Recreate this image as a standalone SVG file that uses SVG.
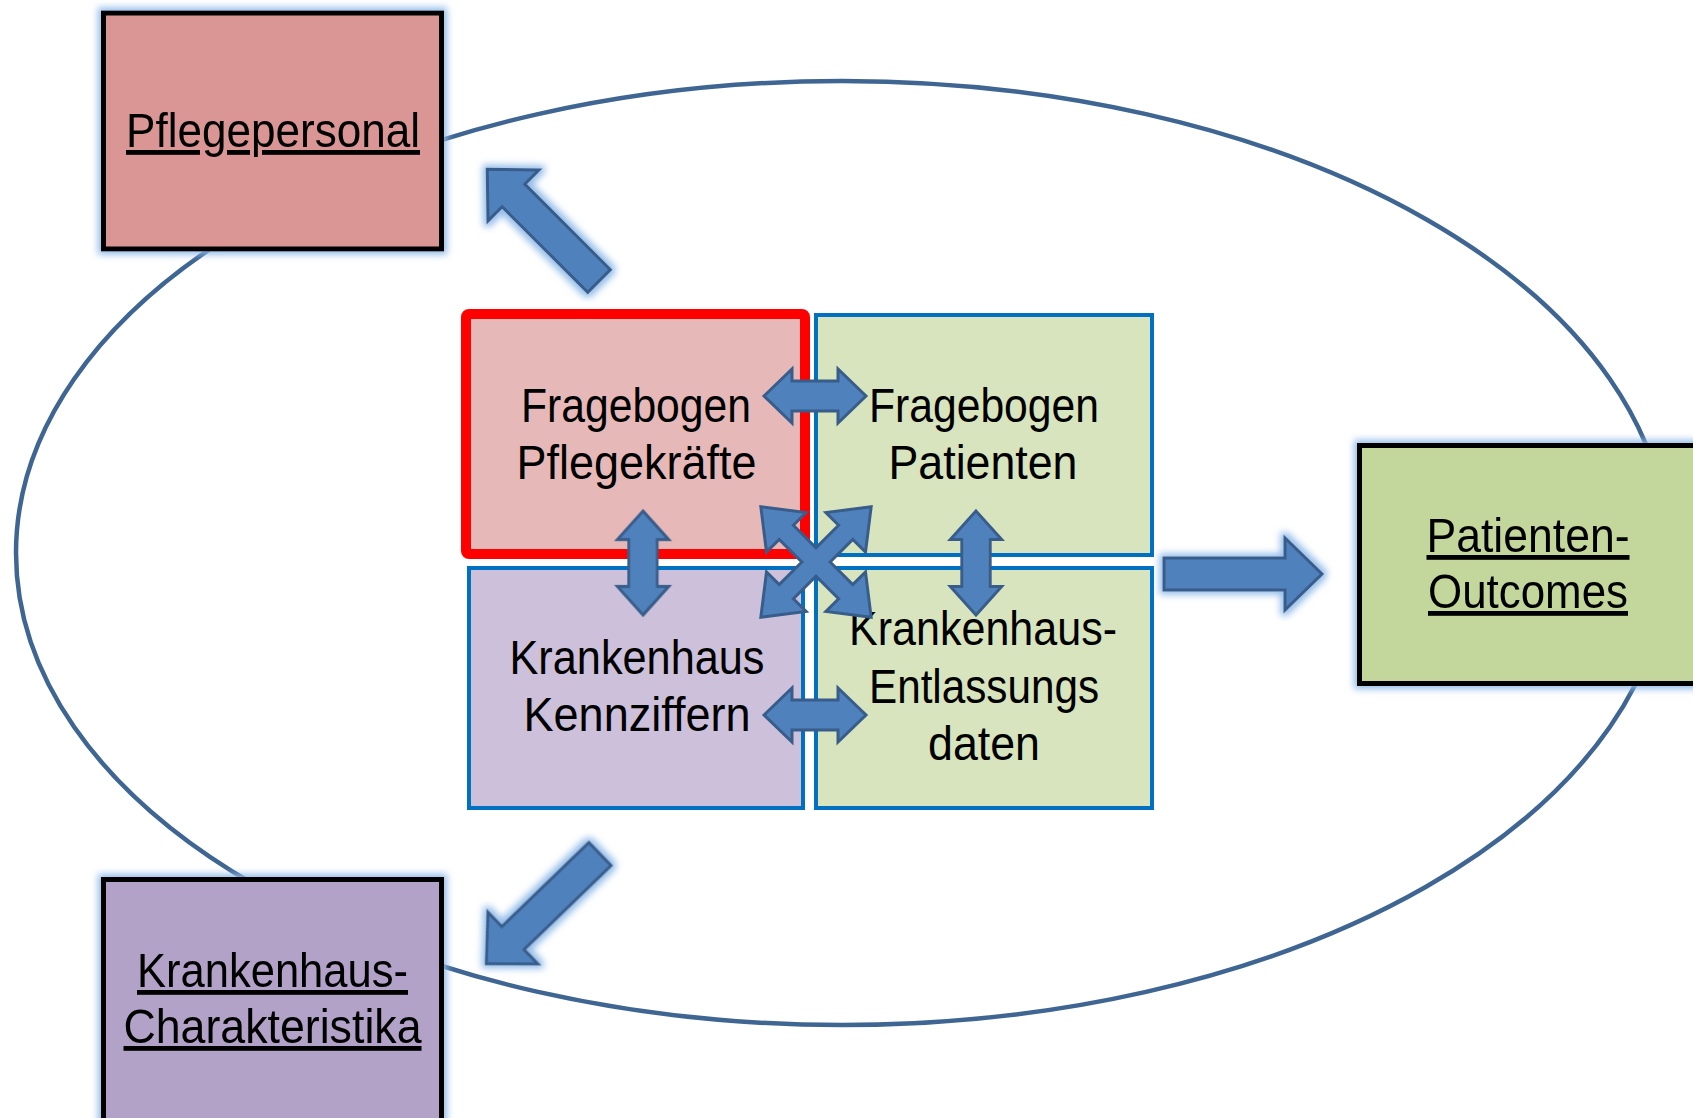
<svg xmlns="http://www.w3.org/2000/svg" width="1693" height="1118" viewBox="0 0 1693 1118">
<defs>
<style>
.lbl{font-family:"Liberation Sans","DejaVu Sans",sans-serif;font-size:48px;fill:#000;text-anchor:middle}
.ul{text-decoration:underline}
.outer{stroke:#000;stroke-width:5}
.inner{stroke:#0070C0;stroke-width:4}
.arr{fill:#4F81BD;stroke:#385D8A;stroke-width:3;stroke-linejoin:miter}
</style>
<filter id="glow" x="-20%" y="-20%" width="140%" height="140%">
<feMorphology in="SourceAlpha" operator="dilate" radius="3" result="d"/>
<feGaussianBlur in="d" stdDeviation="3.5" result="b"/>
<feFlood flood-color="#8DB8E8" flood-opacity="0.95"/>
<feComposite in2="b" operator="in" result="g"/>
<feMerge><feMergeNode in="g"/><feMergeNode in="SourceGraphic"/></feMerge>
</filter>
<path id="block" d="M0,-16 L121,-16 L121,-36 L158,0 L121,36 L121,16 L0,16 Z"/>
<path id="dbl" d="M0,0 L28,-27 L28,-15 L74,-15 L74,-27 L102,0 L74,27 L74,15 L28,15 L28,27 Z"/>
</defs>
<rect width="1693" height="1118" fill="#fff"/>
<g id="cycle">
<ellipse cx="842" cy="553" rx="826" ry="472" fill="none" stroke="#3F6592" stroke-width="4.5"/>
</g>
<g id="node-pflegepersonal" filter="url(#glow)">
<rect class="outer" x="103.5" y="13" width="338" height="236" fill="#D99694"/>
<text class="lbl ul" x="273" y="147" textLength="294" lengthAdjust="spacingAndGlyphs">Pflegepersonal</text>
</g>
<g id="node-patienten-outcomes" filter="url(#glow)">
<rect class="outer" x="1359.5" y="445.5" width="345" height="238" fill="#C3D69B"/>
<text class="lbl ul" x="1528" y="552" textLength="203" lengthAdjust="spacingAndGlyphs">Patienten-</text>
<text class="lbl ul" x="1528" y="608" textLength="200" lengthAdjust="spacingAndGlyphs">Outcomes</text>
</g>
<g id="node-krankenhaus-charakteristika" filter="url(#glow)">
<rect class="outer" x="103.5" y="879.5" width="338" height="260" fill="#B2A2C7"/>
<text class="lbl ul" x="272.5" y="987" textLength="271" lengthAdjust="spacingAndGlyphs">Krankenhaus-</text>
<text class="lbl ul" x="272.5" y="1043" textLength="298" lengthAdjust="spacingAndGlyphs">Charakteristika</text>
</g>
<g id="node-fragebogen-pflegekraefte">
<rect x="466" y="314" width="339" height="240" rx="3" fill="#E6B9B8" stroke="#FF0000" stroke-width="10"/>
<text class="lbl" x="636" y="422" textLength="230" lengthAdjust="spacingAndGlyphs">Fragebogen</text>
<text class="lbl" x="636.5" y="479" textLength="240" lengthAdjust="spacingAndGlyphs">Pflegekräfte</text>
</g>
<g id="node-fragebogen-patienten">
<rect class="inner" x="816" y="315" width="336" height="240" fill="#D7E4BD"/>
<text class="lbl" x="984" y="422" textLength="230" lengthAdjust="spacingAndGlyphs">Fragebogen</text>
<text class="lbl" x="983" y="479" textLength="189" lengthAdjust="spacingAndGlyphs">Patienten</text>
</g>
<g id="node-krankenhaus-kennziffern">
<rect class="inner" x="469" y="568" width="334" height="240" fill="#CCC0DA"/>
<text class="lbl" x="637" y="674" textLength="255" lengthAdjust="spacingAndGlyphs">Krankenhaus</text>
<text class="lbl" x="637" y="731" textLength="227" lengthAdjust="spacingAndGlyphs">Kennziffern</text>
</g>
<g id="node-krankenhaus-entlassungsdaten">
<rect class="inner" x="816" y="568" width="336" height="240" fill="#D7E4BD"/>
<text class="lbl" x="983" y="645" textLength="268" lengthAdjust="spacingAndGlyphs">Krankenhaus-</text>
<text class="lbl" x="984" y="703" textLength="230" lengthAdjust="spacingAndGlyphs">Entlassungs</text>
<text class="lbl" x="984" y="760" textLength="112" lengthAdjust="spacingAndGlyphs">daten</text>
</g>
<g id="connectors">
<g filter="url(#glow)">
<use href="#block" class="arr" transform="translate(599,281) rotate(-135)"/>
<use href="#block" class="arr" transform="translate(600,854) rotate(136)"/>
<use href="#block" class="arr" transform="translate(1164,574)"/>
</g>
<use href="#dbl" class="arr" transform="translate(764,396)"/>
<use href="#dbl" class="arr" transform="translate(764,715)"/>
<use href="#dbl" class="arr" transform="translate(643,511) rotate(90) scale(1.02,0.95)"/>
<use href="#dbl" class="arr" transform="translate(976,511) rotate(90) scale(1.02,0.95)"/>
<path class="arr" transform="translate(816,562) rotate(45)" d="M10,-10 L42,-10 L42,-28 L78,0 L42,28 L42,10 L10,10 L10,42 L28,42 L0,78 L-28,42 L-10,42 L-10,10 L-42,10 L-42,28 L-78,0 L-42,-28 L-42,-10 L-10,-10 L-10,-42 L-28,-42 L0,-78 L28,-42 L10,-42 Z"/>
</g>
</svg>
